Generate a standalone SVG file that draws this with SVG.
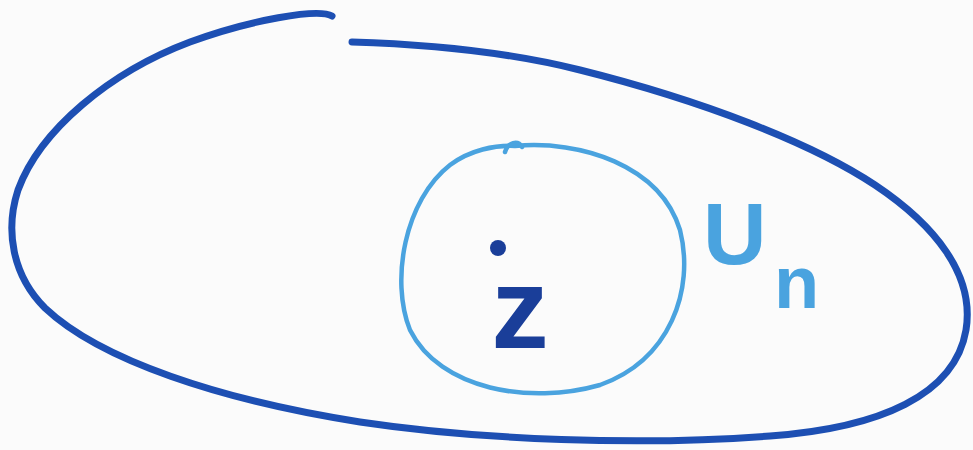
<svg xmlns="http://www.w3.org/2000/svg" width="973" height="450" viewBox="0 0 973 450">
<style>
.outer{fill:none;stroke:#1d4fb3;stroke-width:7;stroke-linecap:round;stroke-linejoin:round}
.inner{fill:none;stroke:#4aa3df;stroke-width:4.5;stroke-linecap:round}
.lbl{font-family:"Liberation Sans",Arial,sans-serif;font-weight:bold}
</style>
<rect width="973" height="450" fill="#fbfbfb"/>
<g id="outer-set">
<path class="outer" d="M332 16 C318 8 250 20 190 42 C110 72 40 130 18 190 C5 230 12 275 45 308 C100 360 220 400 360 422 C480 440 640 446 770 436 C880 428 955 395 966 330 C975 275 935 225 875 185 C810 142 700 100 580 70 C500 50 420 44 352 42"/>
</g>
<g id="inner-set">
<path class="inner" d="M515 146 C580 140 660 165 680 230 C695 290 670 360 600 385 C530 405 440 390 410 330 C390 280 405 200 450 165 C470 150 495 145 515 146 Z"/>
<path class="inner" d="M505 152 C508 142 518 140 522 147"/>
</g>
<g id="point-z">
<circle cx="498" cy="248" r="8" fill="#1a3e99"/>
<text class="lbl" x="520" y="348" font-size="115" fill="#1a3e99" text-anchor="middle">z</text>
</g>
<g id="label-Un">
<text class="lbl" x="703" y="264" font-size="88" fill="#4aa3df">U<tspan x="774" y="308" font-size="74">n</tspan></text>
</g>
</svg>
